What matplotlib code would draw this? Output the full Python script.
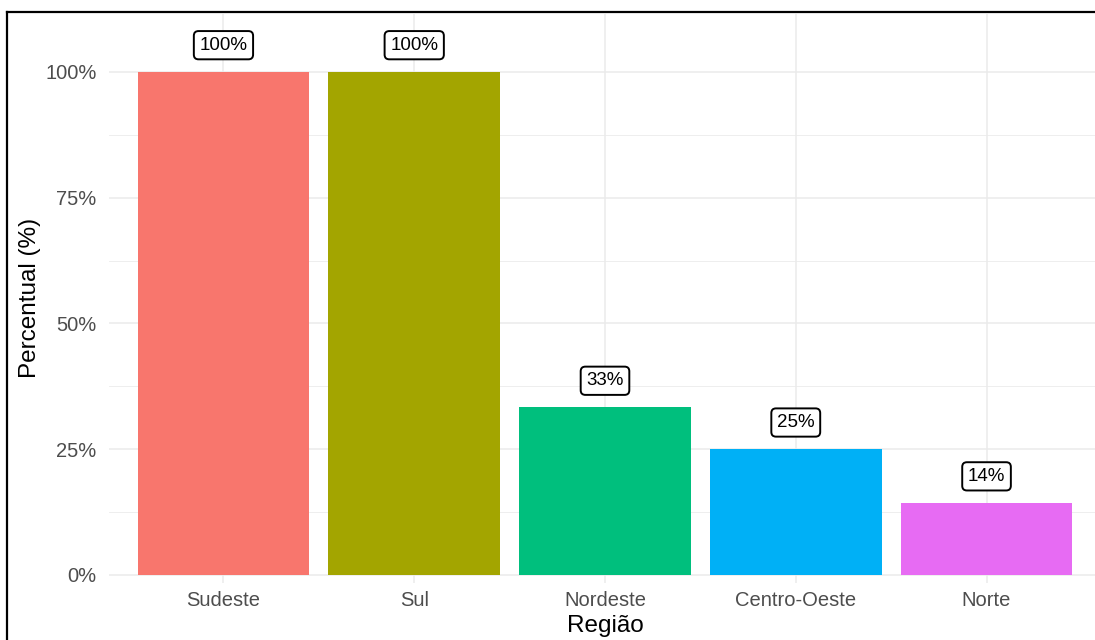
import matplotlib
matplotlib.use("Agg")
import matplotlib.pyplot as plt
from matplotlib.lines import Line2D
from matplotlib.ticker import FixedLocator

regions = ["Sudeste", "Sul", "Nordeste", "Centro-Oeste", "Norte"]
values = [100.0, 100.0, 33.3, 25.0, 14.3]
labels = ["100%", "100%", "33%", "25%", "14%"]
colors = ["#F8766D", "#A3A500", "#00BF7D", "#00B0F6", "#E76BF3"]
yticks = [0, 25, 50, 75, 100]
ytick_labels = ["0%", "25%", "50%", "75%", "100%"]

plt.rcParams['font.family'] = ['Liberation Sans', 'DejaVu Sans']

fig = plt.figure(figsize=(10.95, 6.4), dpi=100)
W, H = 1095, 640
# panel in pixels: left 109, right 1101, top 14, bottom 582.5
ax = fig.add_axes([109 / W, (H - 582.5) / H, (1101 - 109) / W, (582.5 - 14) / H])

x = list(range(1, len(regions) + 1))
ax.bar(x, values, width=0.9, color=colors, zorder=2)
ax.set_xlim(0.4, 5.6)
ax.set_ylim(-1.5, 111.5)

ax.set_yticks(yticks)
ax.set_yticklabels(ytick_labels)
ax.yaxis.set_minor_locator(FixedLocator([12.5, 37.5, 62.5, 87.5]))
ax.set_xticks(x)
ax.set_xticklabels(regions)

ax.grid(True, which='major', color='#ebebeb', linewidth=1.1, zorder=0)
ax.grid(True, which='minor', axis='y', color='#ebebeb', linewidth=0.6, zorder=0)
for s in ax.spines.values():
    s.set_visible(False)
ax.tick_params(axis='both', which='both', length=0, colors='#4d4d4d', labelsize=14.5)
ax.tick_params(axis='y', pad=9)
ax.tick_params(axis='x', pad=6)

ax.set_xlabel("Região", fontsize=17.5, color='black', labelpad=4)
ax.set_ylabel("Percentual (%)", fontsize=17.5, color='black', labelpad=3)

for xi, v, lab in zip(x, values, labels):
    ax.text(xi, v + 5.3, lab, ha='center', va='center', fontsize=13.5, color='black', zorder=4,
            bbox=dict(boxstyle='round,pad=0.3,rounding_size=0.25', facecolor='white',
                      edgecolor='black', linewidth=1.4))

# screenshot frame
fig.add_artist(Line2D([7 / W, 7 / W], [0, (H - 12) / H], color='black', linewidth=1.6,
                      transform=fig.transFigure))
fig.add_artist(Line2D([7 / W, 1.0], [(H - 12) / H, (H - 12) / H], color='black', linewidth=1.6,
                      transform=fig.transFigure))

fig.savefig("out.png", dpi=100)
